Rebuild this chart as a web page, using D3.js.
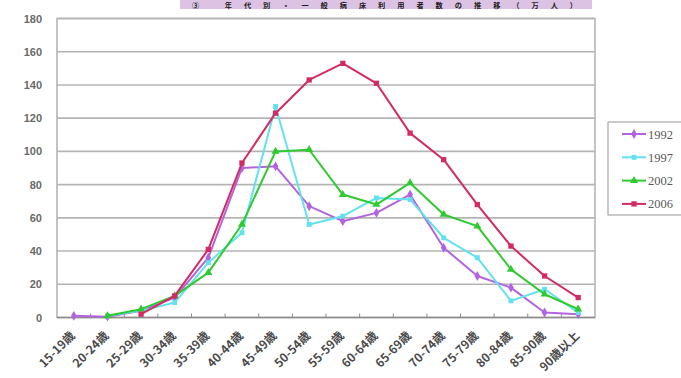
<!DOCTYPE html>
<html>
<head>
<meta charset="utf-8">
<script src="https://cdn.jsdelivr.net/npm/d3@7"></script>
<style>
  html, body { margin: 0; padding: 0; background: #fff; }
  svg { display: block; }
</style>
</head>
<body>
<svg id="chart" width="681" height="378"></svg>
<script>
// Age groups (x axis)
const ageGroups = ["15-19歳", "20-24歳", "25-29歳", "30-34歳", "35-39歳", "40-44歳", "45-49歳",
  "50-54歳", "55-59歳", "60-64歳", "65-69歳", "70-74歳", "75-79歳", "80-84歳", "85-90歳", "90歳以上"];

// Values per survey year (万人); null = no value for that age group
const values1992 = [1, 0.5, 4, 12, 36, 90, 91, 67, 58, 63, 74, 42, 25, 18, 3, 2];
const values1997 = [null, 1, 4, 9, 33, 51, 127, 56, 61, 72, 71, 48, 36, 10, 17, 3];
const values2002 = [null, 1, 5, 13, 27, 56, 100, 101, 74, 68, 81, 62, 55, 29, 14, 5];
const values2006 = [null, null, 2, 13, 41, 93, 123, 143, 153, 141, 111, 95, 68, 43, 25, 12];

const seriesNames = ["1992", "1997", "2002", "2006"];
const yTicks = [0, 20, 40, 60, 80, 100, 120, 140, 160, 180];
const titleText = "③ 年代別・一般病床利用者数の推移（万人）";

const series = [
  { name: seriesNames[0], values: values1992, color: "#b264e0", symbol: d3.symbolDiamond, size: 28 },
  { name: seriesNames[1], values: values1997, color: "#62e2ee", symbol: d3.symbolSquare, size: 24 },
  { name: seriesNames[2], values: values2002, color: "#2fca2f", symbol: d3.symbolTriangle, size: 28 },
  { name: seriesNames[3], values: values2006, color: "#d42a64", symbol: d3.symbolSquare, size: 28 }
];

const svg = d3.select("#chart");

// Title band along the top edge
svg.append("rect")
  .attr("x", 180).attr("y", 0).attr("width", 412).attr("height", 9)
  .attr("fill", "#dcc3e3");
svg.append("text")
  .attr("x", 192).attr("y", 8)
  .attr("textLength", 385)
  .attr("lengthAdjust", "spacing")
  .attr("font-family", "'Noto Sans CJK JP', sans-serif")
  .attr("font-size", 7.2)
  .attr("font-weight", "bold")
  .attr("fill", "#1a1a1a")
  .text(titleText);

const plot = { left: 57, right: 595, top: 18.5, bottom: 317.5 };

const x = d3.scaleBand().domain(ageGroups).range([plot.left, plot.right]);
const y = d3.scaleLinear().domain([0, 180]).range([plot.bottom, plot.top]);

// Horizontal gridlines
svg.append("g")
  .selectAll("line")
  .data(yTicks.filter(t => t > 0))
  .join("line")
  .attr("x1", plot.left).attr("x2", plot.right)
  .attr("y1", d => y(d)).attr("y2", d => y(d))
  .attr("stroke", "#b4b4b4").attr("stroke-width", 1.6);

// Plot frame
svg.append("rect")
  .attr("x", plot.left).attr("y", plot.top)
  .attr("width", plot.right - plot.left).attr("height", plot.bottom - plot.top)
  .attr("fill", "none").attr("stroke", "#b4b4b4").attr("stroke-width", 1.6);

// Y axis labels
const yAxis = d3.axisLeft(y).tickValues(yTicks).tickSize(0).tickPadding(15);
const gy = svg.append("g").attr("transform", `translate(${plot.left},0)`).call(yAxis);
gy.select(".domain").remove();
gy.selectAll("text")
  .attr("font-family", "'Liberation Sans', Arial, sans-serif")
  .attr("font-size", 11)
  .attr("font-weight", "bold")
  .attr("fill", "#6a6a6a");

// X axis: baseline, boundary ticks and rotated labels
svg.append("line")
  .attr("x1", plot.left).attr("x2", plot.right)
  .attr("y1", plot.bottom).attr("y2", plot.bottom)
  .attr("stroke", "#8c8c8c").attr("stroke-width", 1.6);

svg.append("g")
  .selectAll("line")
  .data(ageGroups.slice(1))
  .join("line")
  .attr("x1", d => x(d)).attr("x2", d => x(d))
  .attr("y1", plot.bottom - 4).attr("y2", plot.bottom)
  .attr("stroke", "#8c8c8c").attr("stroke-width", 1);

svg.append("g")
  .selectAll("text")
  .data(ageGroups)
  .join("text")
  .attr("transform", d => `translate(${x(d) + x.bandwidth() / 2 + 2},${plot.bottom + 19}) rotate(-45)`)
  .attr("text-anchor", "end")
  .attr("font-family", "'Noto Sans CJK JP', sans-serif")
  .attr("font-size", 12)
  .attr("font-weight", "bold")
  .attr("fill", "#4a4a4a")
  .text(d => d);

// Series lines and markers
const line = d3.line()
  .defined(d => d.v !== null)
  .x(d => x(d.c) + x.bandwidth() / 2)
  .y(d => y(d.v));

series.forEach(s => {
  const pts = ageGroups.map((c, i) => ({ c, v: s.values[i] }));
  svg.append("path")
    .datum(pts)
    .attr("d", line)
    .attr("fill", "none")
    .attr("stroke", s.color)
    .attr("stroke-width", 2)
    .attr("stroke-linejoin", "round");
  svg.append("g")
    .selectAll("path")
    .data(pts.filter(d => d.v !== null))
    .join("path")
    .attr("transform", d => `translate(${x(d.c) + x.bandwidth() / 2},${y(d.v)})`)
    .attr("d", d3.symbol().type(s.symbol).size(s.size))
    .attr("fill", s.color);
});

// Legend
const legend = { x: 608, y: 122, w: 80, h: 93 };
svg.append("rect")
  .attr("x", legend.x).attr("y", legend.y)
  .attr("width", legend.w).attr("height", legend.h)
  .attr("fill", "#fff").attr("stroke", "#a8a8a8").attr("stroke-width", 1.2);

const lg = svg.append("g")
  .selectAll("g")
  .data(series)
  .join("g")
  .attr("transform", (d, i) => `translate(${legend.x},${legend.y + 12 + i * 23.3})`);
lg.append("line")
  .attr("x1", 14).attr("x2", 38).attr("y1", 0).attr("y2", 0)
  .attr("stroke", d => d.color).attr("stroke-width", 2);
lg.append("path")
  .attr("transform", "translate(26,0)")
  .attr("d", d => d3.symbol().type(d.symbol).size(d.size)())
  .attr("fill", d => d.color);
lg.append("text")
  .attr("x", 40).attr("y", 4.5)
  .attr("font-family", "'Liberation Serif', serif")
  .attr("font-size", 12.5)
  .attr("fill", "#5a5a5a")
  .text(d => d.name);
</script>
</body>
</html>
